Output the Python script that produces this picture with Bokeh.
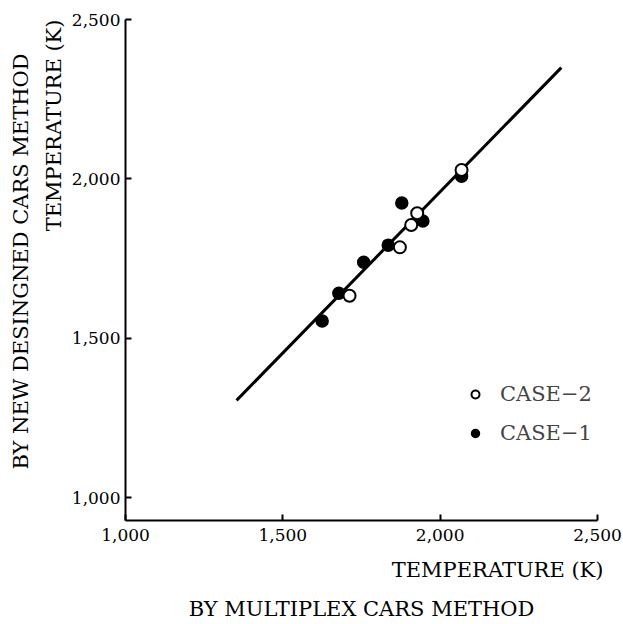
from bokeh.plotting import figure
from bokeh.models import Title, Legend, LegendItem, FixedTicker, NumeralTickFormatter, Range1d
from bokeh.embed import file_html
from bokeh.resources import INLINE

# Data (K)
case1_x = [1625, 1678, 1757, 1835, 1878, 1945, 2068]
case1_y = [1554, 1641, 1738, 1792, 1924, 1868, 2008]
case2_x = [1712, 1872, 1908, 1927, 2068]
case2_y = [1633, 1785, 1855, 1892, 2028]
fit_x = [1353, 2385]
fit_y = [1305, 2349]
ticks = [1000, 1500, 2000, 2500]

FONT = "DejaVu Serif"

p = figure(width=623, height=624, output_backend="svg", toolbar_location=None,
           x_range=Range1d(1000, 2500), y_range=Range1d(928, 2500),
           min_border_left=125, min_border_right=26, min_border_top=19, min_border_bottom=104)
p.outline_line_color = None
p.grid.visible = False
p.background_fill_color = "white"
p.border_fill_color = "white"

for ax in (p.xaxis[0], p.yaxis[0]):
    ax.ticker = FixedTicker(ticks=ticks)
    ax.formatter = NumeralTickFormatter(format="0,0")
    ax.major_tick_in = 6
    ax.major_tick_out = 0
    ax.minor_tick_line_color = None
    ax.axis_line_width = 2
    ax.major_tick_line_width = 2
    ax.axis_line_color = "black"
    ax.major_tick_line_color = "black"
    ax.major_label_text_font = FONT
    ax.major_label_text_font_size = "17px"
    ax.major_label_text_color = "black"
p.xaxis.major_label_standoff = 8
p.yaxis.major_label_standoff = 5

p.line(fit_x, fit_y, line_color="black", line_width=3)
r1 = p.scatter(case1_x, case1_y, size=12, fill_color="black", line_color="black", line_width=1.5)
r2 = p.scatter(case2_x, case2_y, size=12, fill_color="white", line_color="black", line_width=2)

legend = Legend(items=[LegendItem(label="CASE\u22122", renderers=[r2]),
                       LegendItem(label="CASE\u22121", renderers=[r1])],
                location=(340, 75), padding=0, margin=0, spacing=15,
                glyph_width=20, glyph_height=20, label_height=20, label_standoff=15,
                background_fill_alpha=0, border_line_color=None,
                label_text_font=FONT, label_text_font_size="21px")
p.add_layout(legend, "center")

def title(text, side, align, standoff, offset=0):
    p.add_layout(Title(text=text, align=align, standoff=standoff, offset=offset,
                       text_font=FONT, text_font_size="21px", text_font_style="normal",
                       text_color="black"), side)

title("TEMPERATURE (K)", "below", "right", 25, -6)
title("BY MULTIPLEX CARS METHOD", "below", "center", 0)
title("TEMPERATURE (K)", "left", "right", 5)
title("BY NEW DESINGNED CARS METHOD", "left", "right", 9, 34)

open("out.html", "w").write(file_html(p, INLINE))
